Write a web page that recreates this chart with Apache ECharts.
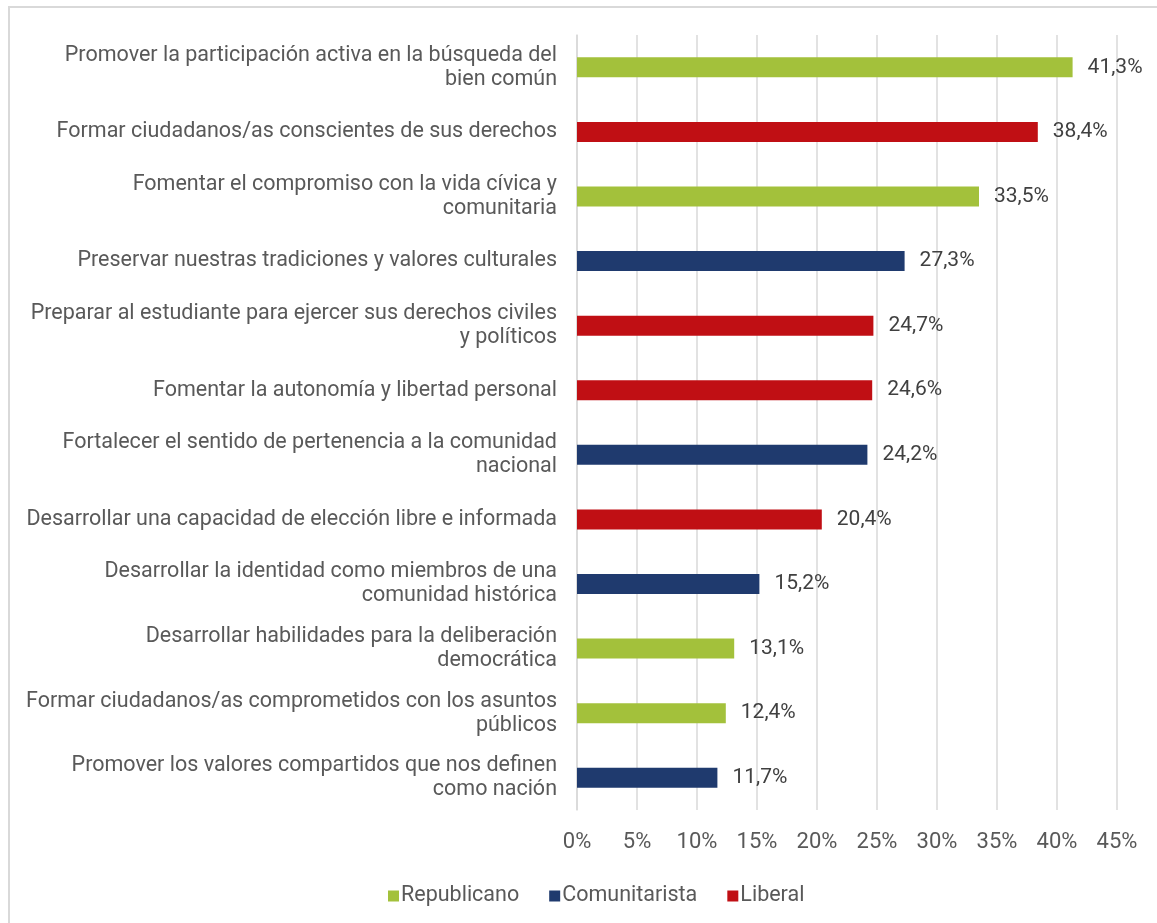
<!DOCTYPE html>
<html>
<head>
<meta charset="utf-8">
<script src="https://cdn.jsdelivr.net/npm/echarts@6/dist/echarts.min.js"></script>
<style>
  html, body { margin: 0; padding: 0; background: #fff; }
  #frame { position: absolute; left: 8px; top: 6px; width: 1300px; height: 1000px; border: 2px solid #d9d9d9; box-sizing: border-box; }
  #chart { position: absolute; left: 0; top: 0; width: 1157px; height: 923px; }
</style>
</head>
<body>
<div id="frame"></div>
<div id="chart"></div>
<script>
const categories = [
  "Promover la participación activa en la búsqueda del\nbien común",
  "Formar ciudadanos/as conscientes de sus derechos",
  "Fomentar el compromiso con la vida cívica y\ncomunitaria",
  "Preservar nuestras tradiciones y valores culturales",
  "Preparar al estudiante para ejercer sus derechos civiles\ny políticos",
  "Fomentar la autonomía y libertad personal",
  "Fortalecer el sentido de pertenencia a la comunidad\nnacional",
  "Desarrollar una capacidad de elección libre e informada",
  "Desarrollar la identidad como miembros de una\ncomunidad histórica",
  "Desarrollar habilidades para la deliberación\ndemocrática",
  "Formar ciudadanos/as comprometidos con los asuntos\npúblicos",
  "Promover los valores compartidos que nos definen\ncomo nación"
];
const values = [41.3, 38.4, 33.5, 27.3, 24.7, 24.6, 24.2, 20.4, 15.2, 13.1, 12.4, 11.7];
const groups = ["Republicano", "Liberal", "Republicano", "Comunitarista", "Liberal", "Liberal",
                "Comunitarista", "Liberal", "Comunitarista", "Republicano", "Republicano", "Comunitarista"];
const seriesNames = ["Republicano", "Comunitarista", "Liberal"];
const seriesColors = ["#A3C13B", "#1F3A6E", "#C00F14"];
const xTicks = [0, 5, 10, 15, 20, 25, 30, 35, 40, 45];

const chart = echarts.init(document.getElementById('chart'));
const series = seriesNames.map((name, i) => ({
  name: name,
  type: 'bar',
  stack: 'all',
  barWidth: 20,
  itemStyle: { color: seriesColors[i] },
  label: {
    show: true,
    position: 'right',
    distance: 15,
    fontFamily: 'Roboto',
    fontSize: 21,
    color: '#404040',
    formatter: p => (p.value == null ? '' : p.value.toFixed(1).replace('.', ',') + '%')
  },
  data: values.map((v, j) => (groups[j] === name ? v : null))
}));

chart.setOption({
  animation: false,
  textStyle: { fontFamily: 'Roboto' },
  grid: { left: 577, right: 40, top: 35, bottom: 113, containLabel: false },
  xAxis: {
    type: 'value',
    min: xTicks[0],
    max: xTicks[xTicks.length - 1],
    interval: 5,
    axisLine: { show: false },
    axisTick: { show: false },
    splitLine: { show: true, lineStyle: { color: '#d9d9d9', width: 1.5 } },
    axisLabel: { formatter: '{value}%', fontFamily: 'Roboto', fontSize: 22, color: '#595959', margin: 21 }
  },
  yAxis: {
    type: 'category',
    inverse: true,
    data: categories,
    axisLine: { show: true, lineStyle: { color: '#d9d9d9', width: 1.5 } },
    axisTick: { show: false },
    axisLabel: { fontFamily: 'Roboto', fontSize: 21.5, lineHeight: 24, color: '#595959', margin: 20, align: 'right' }
  },
  legend: {
    data: seriesNames,
    left: 383,
    top: 880,
    itemWidth: 11,
    itemHeight: 11,
    itemGap: 30,
    icon: 'rect',
    textStyle: { fontFamily: 'Roboto', fontSize: 21.5, color: '#595959', padding: [0, 0, 0, -3] }
  },
  series: series
});
</script>
</body>
</html>
